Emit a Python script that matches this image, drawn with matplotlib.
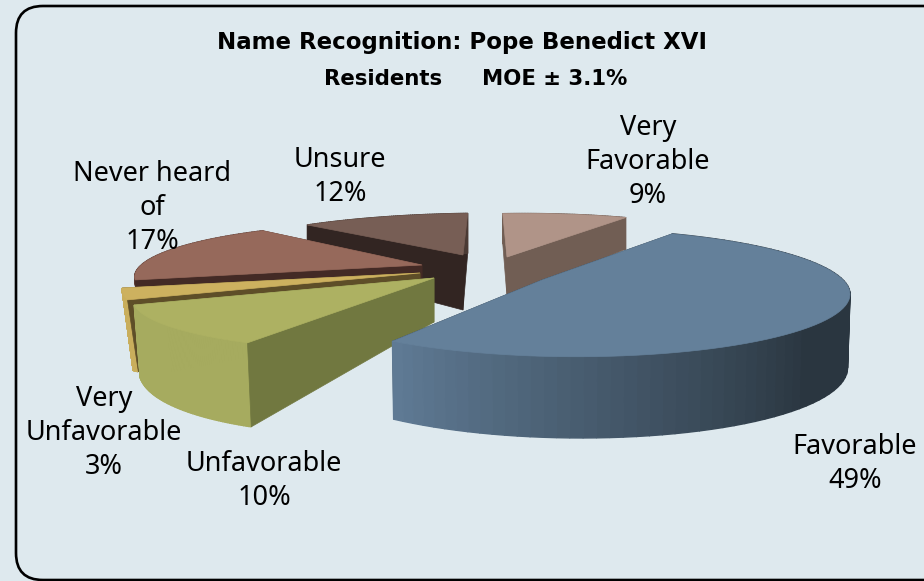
import numpy as np
import matplotlib
matplotlib.use('Agg')
import matplotlib.pyplot as plt
from matplotlib.colors import to_rgb
from matplotlib.patches import FancyBboxPatch, Polygon

plt.rcParams['font.family'] = ['Noto Sans', 'DejaVu Sans']

# data, clockwise from the top
categories = ['Very\nFavorable', 'Favorable', 'Unfavorable', 'Very\nUnfavorable', 'Never heard\nof', 'Unsure']
values = [9, 49, 10, 3, 17, 12]

# look of each slice
top_colors = ['#b09488', '#64809a', '#adb162', '#cdb15f', '#96695b', '#775e55']
edge_colors = ['#715e54', '#2b3741', '#717840', '#5e4e28', '#432a25', '#322522']
rim_colors = [('#715e54', '#715e54'), ('#2a3640', '#5f7a94'), ('#a6ab5f', '#a6ab5f'),
              ('#c9ae5c', '#c9ae5c'), ('#5a3a32', '#5a3a32'), ('#4a3a34', '#4a3a34')]
# apex x, apex y, rx, ry, k, ku, skew, h0, hv, hu, lean
shapes = [
    (507, 257, 255, 52, 0.20, 0.10, 0.02, 40, 10, 0, 0.0),
    (542, 280, 271, 61, 0.20, 0.10, 0.00, 68, 13, 3, 0.008),
    (434, 278, 246, 47, 0.35, -0.12, 0.00, 44, 38, -14, 0.02),
    (420, 273, 251, 49, 0.27, -0.12, 0.00, 48, -40, -45, 0.037),
    (422, 265, 247, 50, 0.20, -0.12, 0.00, 50, 15, 0, 0.02),
    (463, 255, 282, 50, 0.20, 0.10, -0.02, 55, 15, 0, 0.0),
]
# label centres: first line y, line gap 34
label_pos = [(648, 128), (855, 447), (264, 464), (104, 399), (152, 174), (340, 160)]
draw_order = [0, 5, 4, 3, 2, 1]
front_edge_is_end = [True, False, False, False, False, False]


def project(shape, theta, r=1.0):
    # flat point on the pie -> top surface and bottom of the wall, in pixels
    x0, y0, rx, ry, k, ku, skew, h0, hv, hu, lean = shape
    u = r * np.sin(theta)
    v = -r * np.cos(theta)
    s = 1 / (1 - k * v - ku * u)
    x = x0 + rx * (u + skew * v) * s
    y = y0 + ry * v * s
    h = h0 + hv * v + hu * u
    return x, y, x - lean * (x - x0), y + h


def edge_wall(ax, shape, theta, color):
    x1, y1, bx1, by1 = project(shape, theta)
    x0, y0, bx0, by0 = project(shape, theta, 0.0)
    ax.add_patch(Polygon([(x0, y0), (x1, y1), (bx1, by1), (bx0, by0)], fc=color, ec=color, lw=0.5))


def draw_slice(ax, i, start, end):
    shape = shapes[i]
    thetas = np.radians(np.linspace(start, end, 80))
    x, y, bx, by = project(shape, thetas)
    x0, y0 = shape[0], shape[1]

    back, front = (start, end) if front_edge_is_end[i] else (end, start)
    edge_wall(ax, shape, np.radians(back), edge_colors[i])

    c1, c2 = np.array(to_rgb(rim_colors[i][0])), np.array(to_rgb(rim_colors[i][1]))
    for j in range(len(thetas) - 1):
        f = min(1.0, max(0.0, (j / 78 - 0.55) / 0.45))
        col = tuple(c1 + (c2 - c1) * f)
        ax.add_patch(Polygon([(x[j], y[j]), (x[j + 1], y[j + 1]), (bx[j + 1], by[j + 1]), (bx[j], by[j])],
                             fc=col, ec=col, lw=1.0))

    edge_wall(ax, shape, np.radians(front), edge_colors[i])
    pts = [(x0, y0)] + list(zip(x, y))
    ax.add_patch(Polygon(pts, fc=top_colors[i], ec=top_colors[i], lw=0.5))


fig = plt.figure(figsize=(9.24, 5.81), dpi=100, facecolor='#dee9ee')
ax = fig.add_axes([0, 0, 1, 1])
ax.set_xlim(0, 924)
ax.set_ylim(581, 0)
ax.axis('off')

# frame runs off the right of the picture
ax.add_patch(FancyBboxPatch((16, 6), 960, 574, boxstyle='round,pad=0,rounding_size=27',
                            fc='#dee9ee', ec='black', lw=1.9))

stops = np.cumsum([0] + values) * 3.6
for i in draw_order:
    draw_slice(ax, i, stops[i], stops[i + 1])

for name, val, (lx, ly) in zip(categories, values, label_pos):
    lines = name.split('\n') + ['%d%%' % val]
    for n, line in enumerate(lines):
        ax.text(lx, ly + n * 34, line, ha='center', va='center', fontsize=19.5, color='black')

ax.text(462, 42, 'Name Recognition: Pope Benedict XVI', ha='center', va='center',
        fontsize=16.5, fontweight='bold', color='black', family='DejaVu Sans')
ax.text(383, 79, 'Residents', ha='center', va='center',
        fontsize=15.3, fontweight='bold', color='black', family='DejaVu Sans')
ax.text(555, 79, 'MOE ± 3.1%', ha='center', va='center',
        fontsize=15.3, fontweight='bold', color='black', family='DejaVu Sans')

fig.savefig('out.png', dpi=100)
